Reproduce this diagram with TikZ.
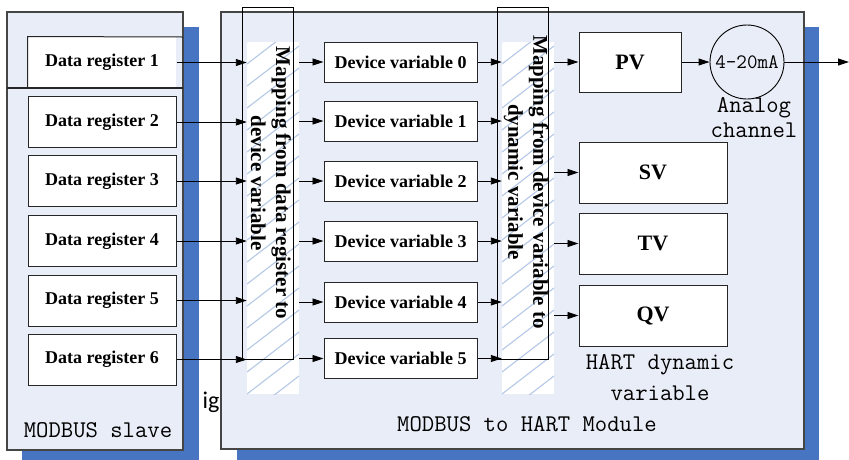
\documentclass[tikz,border=0pt]{standalone}
\usepackage{fontspec}
\setmainfont{Liberation Serif}
\newfontfamily\califont{Carlito}
\usepackage{tikz}
\usetikzlibrary{arrows.meta,positioning}
\definecolor{panelfill}{HTML}{E9EDF7}
\definecolor{shadowblue}{HTML}{4775C1}
\definecolor{hatchblue}{HTML}{B5C8E6}
\definecolor{panelline}{HTML}{454545}

\begin{document}
\begin{tikzpicture}[
  x=1pt, y=-1pt,
  regbox/.style={draw=black!85, fill=white, line width=1pt, minimum width=148pt, minimum height=51pt, inner sep=0pt, font=\fontsize{18}{20}\selectfont\bfseries},
  devbox/.style={regbox, minimum width=153pt, minimum height=40pt},
  hartbox/.style={regbox, minimum width=148pt, minimum height=61pt, font=\fontsize{22}{24}\selectfont\bfseries},
  maprect/.style={draw=black, line width=1pt, minimum width=51pt, minimum height=352pt, inner sep=0pt},
  hatcharea/.style={fill=white, inner sep=0pt, minimum width=52pt, minimum height=352pt,
    path picture={\foreach \k in {0,...,19}{\draw[hatchblue, line width=1.1pt] ([yshift=-\k*22pt]path picture bounding box.north west) -- ++(52pt,40pt);}}},
  maptext/.style={rotate=-90, align=center, font=\fontsize{21}{25}\selectfont\bfseries},
  lbl/.style={align=center, inner sep=0pt, font=\ttfamily\fontsize{24}{25}\selectfont},
  flow/.style={-{Triangle[length=11pt,width=7pt]}, line width=0.9pt}
]
\useasboundingbox[fill=white] (0,0) rectangle (849,459);

% panels with their shadows
\fill[shadowblue] (22,27) rectangle (199,470);
\fill[shadowblue] (237,27) rectangle (819,470);
\draw[panelline, fill=panelfill, line width=1.3pt] (7,12) rectangle (183,450);
\draw[panelline, fill=panelfill, line width=1.3pt] (221,12) rectangle (804,449);

% mapping columns
\node[hatcharea] (hatchA) at (273,218) {};
\node[hatcharea] (hatchB) at (528,218) {};
\node[maprect] (mapA) at (267.5,183) {};
\node[maprect] (mapB) at (522.5,183) {};
\node[maptext] at (271,183) {Mapping from data register to\\device variable};
\node[maptext] at (526,182) {Mapping from device variable to\\dynamic variable};

% data registers
\node[regbox, draw=none] (dr1) at (102,62.5) {Data register 1};
\draw[black!85, line width=1pt] (dr1.south west) -- (dr1.north west) -- (183,37);
\draw[black!85, line width=1.4pt] (7,88) -- (183,88);
\foreach \i/\y in {2/122, 3/181, 4/241, 5/300.5, 6/359.5}
  \node[regbox] (dr\i) at (102,\y) {Data register \i};

% device variables
\foreach \i/\y in {0/62, 1/121, 2/181, 3/241, 4/302, 5/358.5}
  \node[devbox] (dv\i) at (400.5,\y) {Device variable \i};

% HART dynamic variables
\node[regbox, minimum width=102pt, minimum height=60pt, font=\fontsize{22}{24}\selectfont\bfseries] (pv) at (630,62) {PV};
\node[hartbox] (sv) at (653,172.5) {SV};
\node[hartbox] (tv) at (653,243.5) {TV};
\node[hartbox] (qv) at (653,315.5) {QV};
\node[draw=black, line width=0.9pt, circle, minimum size=74pt, inner sep=0pt, font=\ttfamily\fontsize{20.5}{22}\selectfont] (ma) at (747,62) {4-20mA};
\coordinate (out) at (849,62);

% connectors
\foreach \i in {1,...,6}
  \draw[flow] (dr\i.east) -- (dr\i.east -| hatchA.west);
\foreach \i in {0,...,5}{
  \draw[flow] (dv\i.west -| hatchA.east) -- (dv\i.west);
  \draw[flow] (dv\i.east) -- (dv\i.east -| hatchB.west);
}
\foreach \n in {pv,sv,tv,qv}
  \draw[flow] (\n.west -| hatchB.east) -- (\n.west);
\draw[flow] (pv.east) -- (ma.west);
\draw[flow] (ma.east) -- (out);

% labels
\node[lbl] (analog) at (754,118) {Analog\\channel};
\node[lbl, font=\ttfamily\fontsize{24}{31}\selectfont] (hartdyn) at (660,378) {HART dynamic\\variable};
\node[lbl] (modhart) at (527,424) {MODBUS to HART Module};
\node[lbl] (modslave) at (98,430) {MODBUS slave};
\node[inner sep=0pt, font=\califont\fontsize{24}{26}\selectfont] (stray) at (211,402) {ig};
\end{tikzpicture}
\end{document}
